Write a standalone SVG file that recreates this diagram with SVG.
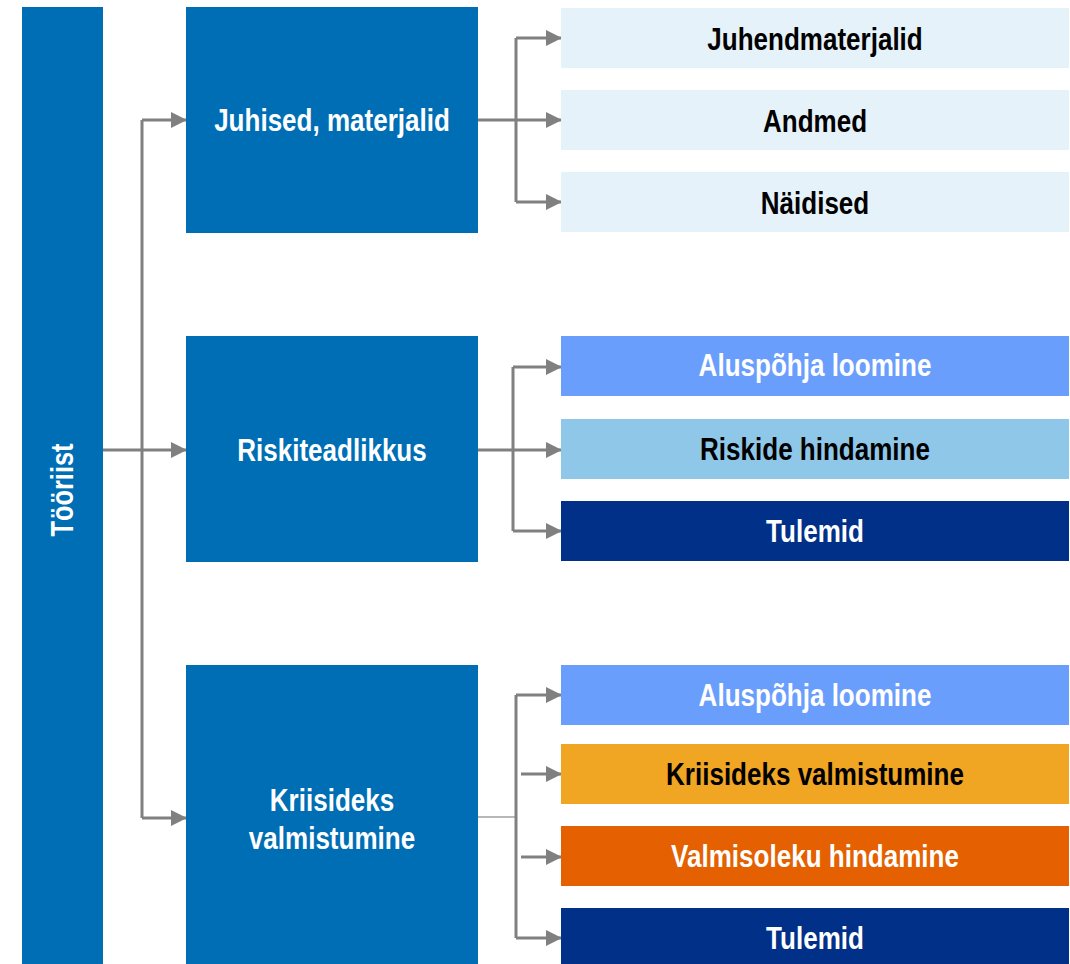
<svg xmlns="http://www.w3.org/2000/svg" width="1070" height="964" viewBox="0 0 1070 964">
<defs>
<marker id="ah" markerWidth="16" markerHeight="16" viewBox="0 0 16 16" refX="15" refY="8" orient="auto" markerUnits="userSpaceOnUse">
<path d="M0,0 L16,8 L0,16 Z" fill="#808080"/>
</marker>
<style>
.t{font-family:"Liberation Sans",Arial,sans-serif;font-weight:bold;font-size:31px;text-anchor:middle}
.w{fill:#ffffff}.k{fill:#000000}
.c{fill:none;stroke:#808080;stroke-width:3}
.ca{fill:none;stroke:#808080;stroke-width:3;marker-end:url(#ah)}
</style>
</defs>
<rect width="1070" height="964" fill="#ffffff"/>
<g id="connectors">
<path class="c" d="M103,450 H142 M142,120 V818"/>
<path class="ca" d="M142,120 H186"/>
<path class="ca" d="M142,450 H186"/>
<path class="ca" d="M142,818 H186"/>
<path class="c" d="M478,120 H516 M516,38 V202"/>
<path class="ca" d="M516,38 H561"/>
<path class="ca" d="M516,120 H561"/>
<path class="ca" d="M516,202 H561"/>
<path class="c" d="M478,450 H513 M513,367 V531"/>
<path class="ca" d="M513,367 H561"/>
<path class="ca" d="M513,450 H561"/>
<path class="ca" d="M513,531 H561"/>
<path fill="none" stroke="#a0a0a0" stroke-width="1.5" d="M478,817 H516"/>
<path class="c" d="M516,695 V938"/>
<path class="ca" d="M516,695 H561"/>
<path class="ca" d="M521,774 H561"/>
<path class="ca" d="M521,857 H561"/>
<path class="ca" d="M516,938 H561"/>
</g>
<g id="tooriist"><rect x="22" y="7" width="81" height="957" fill="#006EB4"/><text class="t w" transform="translate(73,490) rotate(-90) scale(0.82,1)">Tööriist</text></g>
<g id="juhised"><rect x="186" y="7" width="292" height="226" fill="#006EB4"/><text class="t w" transform="translate(332,131) scale(0.84,1)">Juhised, materjalid</text></g>
<g id="riski"><rect x="186" y="336" width="292" height="226" fill="#006EB4"/><text class="t w" transform="translate(332,461) scale(0.84,1)">Riskiteadlikkus</text></g>
<g id="kriis"><rect x="186" y="665" width="292" height="299" fill="#006EB4"/><text class="t w" transform="translate(332,811) scale(0.84,1)">Kriisideks</text><text class="t w" transform="translate(332,849) scale(0.84,1)">valmistumine</text></g>
<g id="r1"><rect x="561" y="8" width="508" height="60" fill="#E6F2FA"/><text class="t k" transform="translate(815,50) scale(0.84,1)">Juhendmaterjalid</text></g>
<g id="r2"><rect x="561" y="90" width="508" height="60" fill="#E6F2FA"/><text class="t k" transform="translate(815,132) scale(0.84,1)">Andmed</text></g>
<g id="r3"><rect x="561" y="172" width="508" height="60" fill="#E6F2FA"/><text class="t k" transform="translate(815,214) scale(0.84,1)">Näidised</text></g>
<g id="r4"><rect x="561" y="336" width="508" height="60" fill="#6A9EFD"/><text class="t w" transform="translate(815,376) scale(0.84,1)">Aluspõhja loomine</text></g>
<g id="r5"><rect x="561" y="419" width="508" height="60" fill="#8FC7E8"/><text class="t k" transform="translate(815,460) scale(0.84,1)">Riskide hindamine</text></g>
<g id="r6"><rect x="561" y="501" width="508" height="60" fill="#003087"/><text class="t w" transform="translate(815,542) scale(0.84,1)">Tulemid</text></g>
<g id="r7"><rect x="561" y="665" width="508" height="60" fill="#6A9EFD"/><text class="t w" transform="translate(815,706) scale(0.84,1)">Aluspõhja loomine</text></g>
<g id="r8"><rect x="561" y="744" width="508" height="60" fill="#F0A523"/><text class="t k" transform="translate(815,785) scale(0.84,1)">Kriisideks valmistumine</text></g>
<g id="r9"><rect x="561" y="826" width="508" height="60" fill="#E46000"/><text class="t w" transform="translate(815,867) scale(0.84,1)">Valmisoleku hindamine</text></g>
<g id="r10"><rect x="561" y="908" width="508" height="56" fill="#003087"/><text class="t w" transform="translate(815,949) scale(0.84,1)">Tulemid</text></g>
</svg>
